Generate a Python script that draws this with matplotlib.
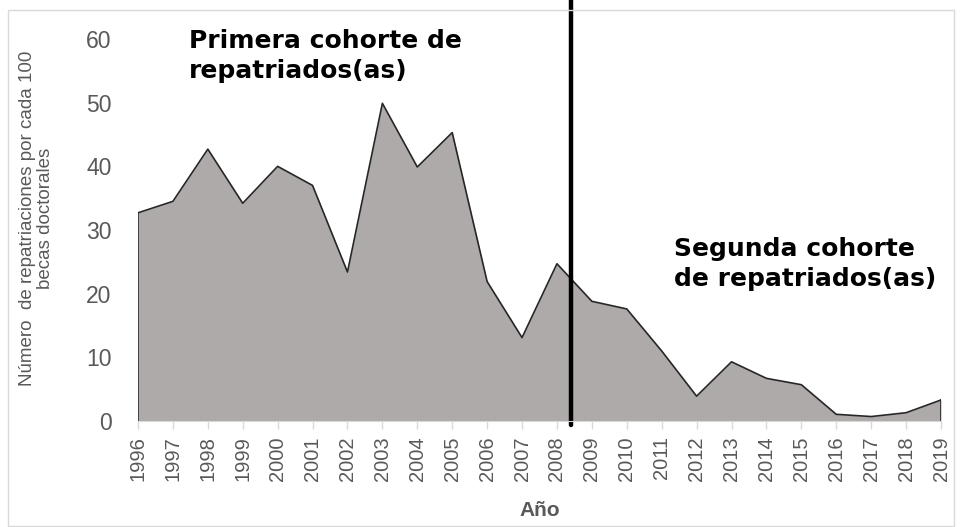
import matplotlib

matplotlib.use("Agg")
import matplotlib.pyplot as plt
from matplotlib.patches import Rectangle

plt.rcParams["font.family"] = ["Liberation Sans", "DejaVu Sans"]

YEARS = list(range(1996, 2020))
REPATRIATIONS = [
    32.7, 34.5, 42.7, 34.2, 40.0, 37.0, 23.4, 49.9, 39.9, 45.3, 21.9, 13.1,
    24.7, 18.8, 17.6, 11.0, 3.9, 9.3, 6.7, 5.7, 1.05, 0.7, 1.3, 3.3,
]
COHORT_SPLIT = 2008.4
Y_TICKS = [0, 10, 20, 30, 40, 50, 60]

GRAY_TEXT = "#595959"

fig = plt.figure(figsize=(9.62, 5.27), dpi=100)
ax = fig.add_axes([138 / 962, 1 - 421 / 527, (941 - 138) / 962, (421 - 39) / 527])

ax.fill_between(YEARS, REPATRIATIONS, 0, color="#aeaaaa", linewidth=0)
ax.plot(YEARS, REPATRIATIONS, color="#262626", linewidth=1.2)
ax.plot([YEARS[0], YEARS[0]], [0, REPATRIATIONS[0]], color="#262626", linewidth=1.2)
ax.plot([YEARS[-1], YEARS[-1]], [0, REPATRIATIONS[-1]], color="#262626", linewidth=1.2)

ax.plot([COHORT_SPLIT, COHORT_SPLIT], [-0.6, 66.5], color="black",
        linewidth=3.2, clip_on=False, solid_capstyle="round")

ax.set_xlim(YEARS[0], YEARS[-1])
ax.set_ylim(0, 60)
ax.set_xticks(YEARS)
ax.set_xticklabels([str(y) for y in YEARS], rotation=90, fontsize=14.5, color=GRAY_TEXT)
ax.set_yticks(Y_TICKS)
ax.set_yticklabels([str(v) for v in Y_TICKS], fontsize=16.5, color=GRAY_TEXT)
ax.tick_params(axis="y", length=0, pad=19)
ax.tick_params(axis="x", length=6, color="#d9d9d9", width=1, pad=5)

for side in ("top", "right", "left"):
    ax.spines[side].set_visible(False)
ax.spines["bottom"].set_color("#d9d9d9")

ax.set_xlabel("Año", fontsize=15, fontweight="bold", color=GRAY_TEXT, labelpad=14)
ax.set_ylabel("Número  de repatriaciones por cada 100\nbecas doctorales",
              fontsize=13.5, color=GRAY_TEXT, linespacing=1.05)
ax.yaxis.set_label_coords(-0.105, 0.53)

ax.text(1997.45, 61.6, "Primera cohorte de\nrepatriados(as)", fontsize=18,
        fontweight="bold", color="black", va="top", ha="left", linespacing=1.3,
        family="DejaVu Sans")
ax.text(2011.35, 28.9, "Segunda cohorte\nde repatriados(as)", fontsize=18,
        fontweight="bold", color="black", va="top", ha="left", linespacing=1.3,
        family="DejaVu Sans")

fig.patches.append(Rectangle((8 / 962, 1 / 527), 946 / 962, 516 / 527,
                             transform=fig.transFigure, fill=False,
                             edgecolor="#d9d9d9", linewidth=1))

fig.savefig("out.png", dpi=100)
